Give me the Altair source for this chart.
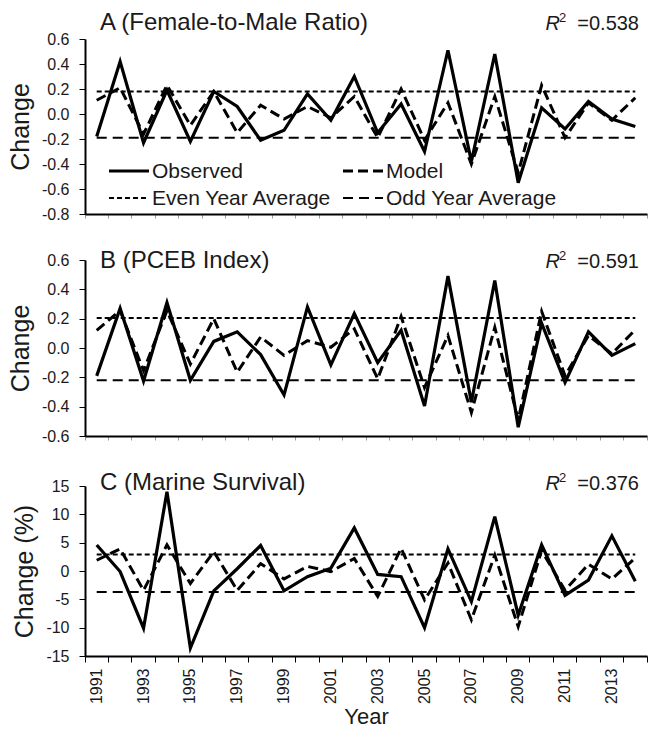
import altair as alt
import pandas as pd

FONT = "Liberation Sans"
INK = "#1a1a1a"

years = list(range(1991, 2015))

# A: year-to-year change in the female-to-male ratio
a_observed = [-0.18, 0.42, -0.23, 0.19, -0.22, 0.18, 0.06, -0.21, -0.13, 0.16, -0.05, 0.30,
              -0.15, 0.08, -0.30, 0.51, -0.38, 0.48, -0.55, 0.05, -0.12, 0.10, -0.04, -0.10]
a_model = [0.11, 0.21, -0.16, 0.23, -0.09, 0.18, -0.15, 0.07, -0.04, 0.06, -0.03, 0.14,
           -0.19, 0.20, -0.21, 0.09, -0.40, 0.14, -0.47, 0.23, -0.19, 0.09, -0.05, 0.13]
a_even_avg = 0.18
a_odd_avg = -0.19
a_r2 = "=0.538"

# B: year-to-year change in the PCEB index
b_observed = [-0.19, 0.27, -0.225, 0.31, -0.22, 0.045, 0.11, -0.045, -0.32, 0.28, -0.115, 0.235,
              -0.10, 0.12, -0.395, 0.49, -0.37, 0.46, -0.54, 0.17, -0.235, 0.11, -0.05, 0.03]
b_model = [0.12, 0.255, -0.155, 0.255, -0.11, 0.20, -0.165, 0.075, -0.05, 0.05, 0.005, 0.13,
           -0.21, 0.215, -0.27, 0.085, -0.44, 0.14, -0.49, 0.25, -0.19, 0.085, -0.04, 0.125]
b_even_avg = 0.205
b_odd_avg = -0.22
b_r2 = "=0.591"

# C: year-to-year change in marine survival (%)
c_observed = [4.6, -0.1, -10.1, 14.0, -13.6, -3.5, 0.4, 4.5, -3.5, -1.0, 0.5, 7.6,
              -0.6, -1.0, -10.0, 3.9, -5.4, 9.6, -7.8, 4.6, -4.3, -1.6, 6.2, -1.8]
c_model = [1.9, 3.9, -3.4, 4.6, -2.2, 3.4, -3.4, 1.3, -1.4, 0.8, -0.1, 2.2,
           -4.5, 4.0, -5.1, 1.4, -8.6, 2.8, -9.8, 3.6, -3.4, 1.2, -1.4, 2.3]
c_even_avg = 2.9
c_odd_avg = -3.7
c_r2 = "=0.376"

a_ticks = [-0.8, -0.6, -0.4, -0.2, 0.0, 0.2, 0.4, 0.6]
b_ticks = [-0.6, -0.4, -0.2, 0.0, 0.2, 0.4, 0.6]
c_ticks = [-15, -10, -5, 0, 5, 10, 15]

series_names = ["Observed", "Model", "Even Year Average", "Odd Year Average"]
STYLE = {
    "Observed": dict(strokeWidth=3.2),
    "Model": dict(strokeWidth=3, strokeDash=[10, 5]),
    "Even Year Average": dict(strokeWidth=2, strokeDash=[5, 3]),
    "Odd Year Average": dict(strokeWidth=2, strokeDash=[10, 6]),
}

PLOT_W = 562


def series_frame(values):
    return pd.DataFrame({"year": years, "value": values})


def level_frame(level):
    return pd.DataFrame({"year": [years[0], years[-1]], "value": [level, level]})


def one_text(text, baseline="alphabetic", **mark):
    return alt.Chart(alt.InlineData(values=[{"t": text}])).mark_text(
        font=FONT, color=INK, baseline=baseline, **mark
    )


def panel(observed, model, even_avg, odd_avg, ticks, fmt, y_title, height,
          title, r2, base, bottom_axis, legend=False):
    common = dict(bandPosition=1, tickExtra=True, domainWidth=2, domainColor="black", grid=False)
    if bottom_axis:
        x_axis = alt.Axis(title="Year", titleFontSize=22, labelAngle=270,
                          labelExpr="datum.value % 2 == 1 ? datum.label : ''",
                          tickSize=6, tickColor="black",
                          labelPadding=6, titlePadding=3, labelFontSize=16, **common)
    else:
        x_axis = alt.Axis(title=None, labels=False, tickSize=4, tickColor="#9a9a9a", **common)

    x = alt.X("year:O", bandPosition=0.5,
              scale=alt.Scale(type="band", domain=years, paddingInner=0, paddingOuter=0),
              axis=x_axis)
    y = alt.Y("value:Q",
              scale=alt.Scale(domain=[ticks[0], ticks[-1]], nice=False, zero=False),
              axis=alt.Axis(values=ticks, title=y_title, grid=False, titleFontSize=25,
                            labelExpr="replace(format(datum.value, '%s'), '\u2212', '-')" % fmt,
                            tickSize=6, tickColor="black", labelPadding=10, titlePadding=8,
                            domainWidth=2, domainColor="black"))

    frames = {
        "Even Year Average": level_frame(even_avg),
        "Odd Year Average": level_frame(odd_avg),
        "Model": series_frame(model),
        "Observed": series_frame(observed),
    }
    layers = []
    for name, df in frames.items():
        layers.append(alt.Chart(df).mark_line(color="black", **STYLE[name]).encode(x=x, y=y))

    # panel heading and R-squared label
    layers.append(one_text(title, align="left", fontSize=24).encode(
        x=alt.value(15), y=alt.value(base), text="t:N"))
    layers.append(one_text("R", align="right", fontSize=20, fontStyle="italic").encode(
        x=alt.value(PLOT_W - 87), y=alt.value(base), text="t:N"))
    layers.append(one_text("2", align="left", fontSize=13).encode(
        x=alt.value(PLOT_W - 88), y=alt.value(base - 8), text="t:N"))
    layers.append(one_text(r2, align="right", fontSize=20).encode(
        x=alt.value(PLOT_W - 8), y=alt.value(base), text="t:N"))

    if legend:
        # two-column key: line sample followed by its label
        cols = [24, 258]
        rows = [132, 159]
        for i, name in enumerate(series_names):
            cx = cols[i % 2]
            cy = rows[i // 2]
            layers.append(alt.Chart(alt.InlineData(values=[{"s": name}])).mark_rule(
                color="black", **STYLE[name]).encode(
                x=alt.value(cx), x2=alt.value(cx + 40), y=alt.value(cy)))
            layers.append(one_text(name, baseline="middle", align="left", fontSize=21).encode(
                x=alt.value(cx + 43), y=alt.value(cy + 1), text="t:N"))

    return alt.layer(*layers).properties(width=PLOT_W, height=height)


panel_a = panel(a_observed, a_model, a_even_avg, a_odd_avg, a_ticks, ".1f", "Change", 175,
                "A (Female-to-Male Ratio)", a_r2, -9, False, legend=True)
panel_b = panel(b_observed, b_model, b_even_avg, b_odd_avg, b_ticks, ".1f", "Change", 176,
                "B (PCEB Index)", b_r2, 8, False)
panel_c = panel(c_observed, c_model, c_even_avg, c_odd_avg, c_ticks, "d", "Change  (%)", 170,
                "C (Marine Survival)", c_r2, 4, True)

chart = alt.vconcat(panel_a, panel_b, panel_c, spacing=27).properties(
    padding={"left": 8, "top": 11, "right": 4, "bottom": 0}
).configure_view(stroke=None).configure_axis(
    labelFont=FONT, titleFont=FONT, labelColor=INK, titleColor=INK,
    labelFontSize=16, titleFontSize=23, titleFontWeight="normal"
)

chart.save("out.html", embed_options={"renderer": "svg", "actions": False})
